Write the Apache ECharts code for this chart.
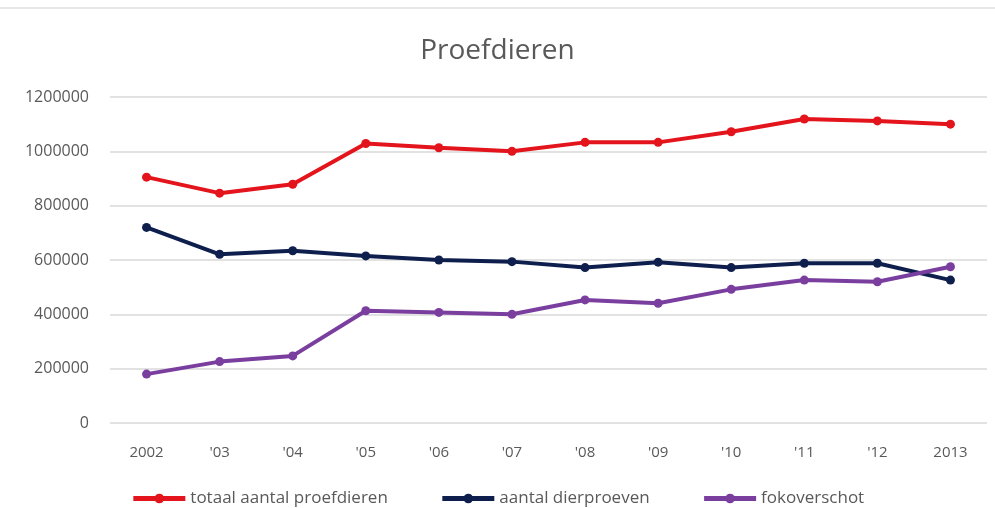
<html>
<head>
    <meta http-equiv="Content-Type" content="text/html; charset=utf-8" />
    <title>Proefdieren</title>
    <style>
        body { margin: 0; background: #fff; }
    </style>
</head>
<body>
    <div id="container" style="width:995px;height:508px;"></div>
    <script src="https://cdn.jsdelivr.net/npm/echarts@6/dist/echarts.min.js"></script>
    <script type="text/javascript">
    var years = ['2002', "'03", "'04", "'05", "'06", "'07", "'08", "'09", "'10", "'11", "'12", '2013'];
    var totaal = [905000, 846000, 879000, 1029000, 1013000, 1000000, 1033000, 1033000, 1072000, 1119000, 1112000, 1100000];
    var dierproeven = [720000, 621000, 634000, 615000, 600000, 594000, 572000, 592000, 572000, 588000, 588000, 526000];
    var fokoverschot = [180000, 226000, 247000, 413000, 407000, 400000, 453000, 441000, 492000, 526000, 520000, 575000];

    var font = 'Open Sans, Noto Sans, sans-serif';
    var grey = '#595959';

    function lineSeries(name, color, data) {
        return {
            type: 'line',
            name: name,
            data: data,
            symbol: 'circle',
            symbolSize: 9,
            lineStyle: { color: color, width: 4 },
            itemStyle: { color: color },
            emphasis: { disabled: true }
        };
    }

    var myChart = echarts.init(document.getElementById('container'));
    myChart.setOption({
        animation: false,
        backgroundColor: '#fff',
        title: {
            text: 'Proefdieren',
            left: 'center',
            top: 32,
            textStyle: { fontFamily: font, fontSize: 28, fontWeight: 'normal', color: grey }
        },
        legend: {
            top: 485,
            left: 'center',
            itemWidth: 52,
            itemHeight: 12,
            itemGap: 52,
            lineStyle: { width: 5 },
            textStyle: { fontFamily: font, fontSize: 17, color: grey },
            data: ['totaal aantal proefdieren', 'aantal dierproeven', 'fokoverschot']
        },
        grid: { left: 110, right: 8, top: 97, bottom: 85 },
        xAxis: {
            type: 'category',
            data: years,
            boundaryGap: true,
            axisLine: { show: false },
            axisTick: { show: false },
            axisLabel: { fontFamily: font, fontSize: 15, color: grey, margin: 22 }
        },
        yAxis: {
            type: 'value',
            min: 0,
            max: 1200000,
            interval: 200000,
            axisLine: { show: false },
            axisTick: { show: false },
            axisLabel: { fontFamily: font, fontSize: 16, color: grey, margin: 21, formatter: function (v) { return String(v); } },
            splitLine: { lineStyle: { color: '#d9d9d9', width: 1.5 } }
        },
        graphic: [{
            type: 'line',
            shape: { x1: 0, y1: 8, x2: 995, y2: 8 },
            style: { stroke: '#e0e0e0', lineWidth: 1.5 }
        }],
        series: [
            lineSeries('totaal aantal proefdieren', '#e3141b', totaal),
            lineSeries('aantal dierproeven', '#0f1f4d', dierproeven),
            lineSeries('fokoverschot', '#7a3e9f', fokoverschot)
        ]
    });
    </script>
</body>
</html>
